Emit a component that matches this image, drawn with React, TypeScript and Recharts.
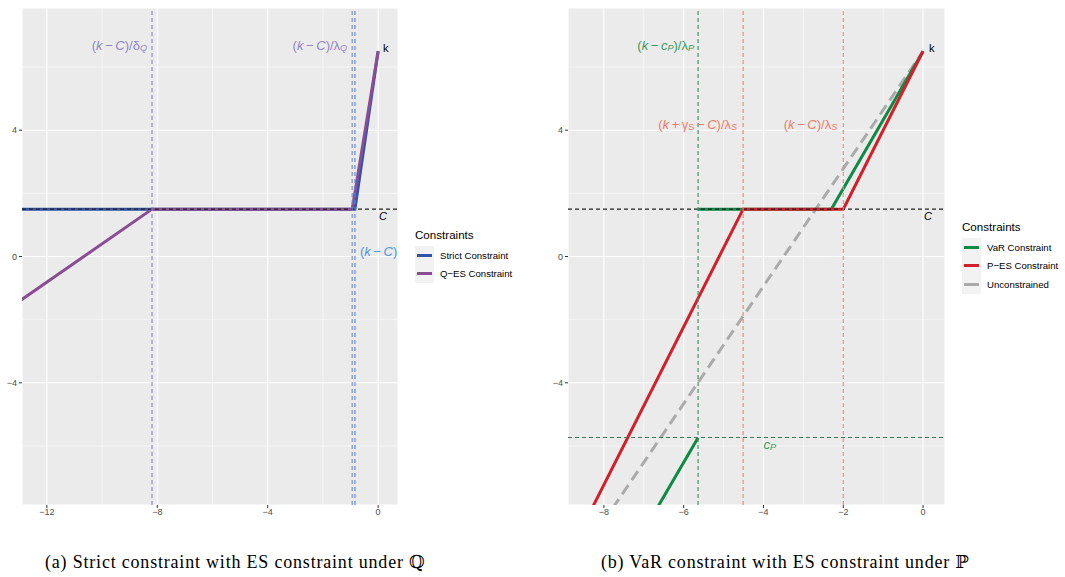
import React from "react";
import {
  LineChart,
  Line,
  XAxis,
  YAxis,
  CartesianGrid,
  ReferenceLine,
  ReferenceDot,
} from "recharts";

// axis ticks and grid
const yTicks = [-4, 0, 4];
const yMinor = [-6, -2, 2, 6];
const leftXTicks = [-12, -8, -4, 0];
const leftXMinor = [-10, -6, -2];
const rightXTicks = [-8, -6, -4, -2, 0];
const rightXMinor = [-7, -5, -3, -1];

// levels
const kLevel = 6.5;
const cLevel = 1.5;
const cPLevel = -5.73;

// left panel (Q)
const deltaQ = -8.19;
const lambdaQ = -0.94;
const kMinusC = -0.84;
const strictX = [-13, -0.84, 0];
const strictY = [1.5, 1.5, 6.5];
const qesX = [-13, -8.19, -0.94, 0];
const qesY = [-1.42, 1.5, 1.5, 6.5];

// right panel (P)
const lambdaP = -5.64;
const gammaS = -4.51;
const lambdaS = -2;
const varX = [-7, -5.64, -5.64, -5.64, -2.3, 0];
const varY: (number | null)[] = [-8.69, -5.74, null, 1.5, 1.5, 6.5];
const pesX = [-9, -4.51, -2, 0];
const pesY = [-9.73, 1.5, 1.5, 6.5];
const uncX = [-8.5, 0];
const uncY = [-9.31, 6.5];

const COLORS = {
  strict: "#3353a6",
  qes: "#8a4c93",
  var: "#0d8a43",
  pes: "#d2202a",
  unc: "#aaaaaa",
};

const SANS = "Liberation Sans, Arial, sans-serif";

const zip = (xs: number[], ys: (number | null)[]) =>
  xs.map((x, i) => ({ x, y: ys[i] }));

const fmt = (v: number) => String(v).replace("-", "\u2212");

type Part = { t: string; i?: boolean; sub?: boolean };

// math-ish label drawn at a data point
function mathLabel(
  parts: Part[],
  o: { color: string; anchor?: "start" | "end"; dx?: number; dy?: number; size?: number }
) {
  return (props: any) => {
    const vb = props.viewBox || {};
    const x = (vb.x ?? 0) + (vb.width ?? 0) / 2 + (o.dx ?? 0);
    const y = (vb.y ?? 0) + (vb.height ?? 0) / 2 + (o.dy ?? 0);
    const size = o.size ?? 13;
    let shift = 0;
    return (
      <text
        x={x}
        y={y}
        textAnchor={o.anchor ?? "start"}
        dominantBaseline="central"
        fill={o.color}
        fontSize={size}
        fontFamily={SANS}
      >
        {parts.map((p, idx) => {
          const target = p.sub ? 3 : 0;
          const dy = target - shift;
          shift = target;
          return (
            <tspan
              key={idx}
              dy={dy}
              fontStyle={p.i ? "italic" : "normal"}
              fontSize={p.sub ? size * 0.7 : size}
            >
              {p.t}
            </tspan>
          );
        })}
      </text>
    );
  };
}

const axisTick = { fontSize: 9, fill: "#4d4d4d", fontFamily: SANS };

function LegendBox({
  left,
  top,
  items,
}: {
  left: number;
  top: number;
  items: { name: string; color: string }[];
}) {
  return (
    <div style={{ position: "absolute", left, top, fontFamily: SANS }}>
      <div style={{ fontSize: 11.6, color: "#000", height: 19, lineHeight: "16px" }}>Constraints</div>
      {items.map((it) => (
        <div key={it.name} style={{ display: "flex", alignItems: "center", height: 18.5 }}>
          <div
            style={{
              width: 19,
              height: 18.5,
              background: "#f2f2f2",
              display: "flex",
              alignItems: "center",
              justifyContent: "center",
            }}
          >
            <div style={{ width: 15, height: 3, background: it.color }} />
          </div>
          <span style={{ fontSize: 9.6, color: "#000", marginLeft: 6 }}>{it.name}</span>
        </div>
      ))}
    </div>
  );
}

const captionStyle: React.CSSProperties = {
  position: "absolute",
  top: 551,
  fontFamily: "'Liberation Serif', 'DejaVu Serif', serif",
  fontSize: 18,
  letterSpacing: 0.8,
  whiteSpace: "nowrap",
  color: "#000",
};

export default function App() {
  const lineProps = { dataKey: "y", dot: false, isAnimationActive: false, strokeWidth: 3 } as const;
  const dash = { strokeWidth: 1.1, strokeDasharray: "4 3" } as const;
  return (
    <div
      style={{
        position: "absolute",
        left: 0,
        top: 0,
        width: 1065,
        height: 577,
        background: "#fff",
        overflow: "hidden",
      }}
    >
      {/* left panel */}
      <div style={{ position: "absolute", left: 0, top: 0 }}>
        <LineChart width={400} height={540} margin={{ top: 8, right: 2, left: 2, bottom: 15 }}>
          <CartesianGrid fill="#ebebeb" stroke="#ffffff" strokeWidth={1.1} />
          {leftXMinor.map((v) => (
            <ReferenceLine key={"lx" + v} x={v} stroke="#fff" strokeWidth={0.55} />
          ))}
          {yMinor.map((v) => (
            <ReferenceLine key={"ly" + v} y={v} stroke="#fff" strokeWidth={0.55} />
          ))}
          <XAxis
            type="number"
            dataKey="x"
            domain={[-12.9, 0.72]}
            ticks={leftXTicks}
            allowDataOverflow
            axisLine={false}
            tickLine={{ stroke: "#333" }}
            tickSize={3}
            tickMargin={1}
            tick={axisTick}
            tickFormatter={fmt}
            height={20}
          />
          <YAxis
            type="number"
            dataKey="y"
            domain={[-7.87, 7.87]}
            ticks={yTicks}
            allowDataOverflow
            axisLine={false}
            tickLine={{ stroke: "#333" }}
            tickSize={3}
            tickMargin={2}
            tick={axisTick}
            tickFormatter={fmt}
            width={20}
          />
          <Line data={zip(strictX, strictY)} stroke={COLORS.strict} {...lineProps} />
          <Line data={zip(qesX, qesY)} stroke={COLORS.qes} {...lineProps} />
          <ReferenceLine y={cLevel} stroke="#222" {...dash} />
          <ReferenceLine x={deltaQ} stroke="#8a7ccf" {...dash} />
          <ReferenceLine x={lambdaQ} stroke="#8a7ccf" {...dash} />
          <ReferenceLine x={kMinusC} stroke="#3b8fe3" {...dash} />
          <ReferenceDot
            x={deltaQ}
            y={6.7}
            r={0}
            stroke="none"
            fill="none"
            label={mathLabel(
              [{ t: "(" }, { t: "k", i: true }, { t: "\u2009\u2212\u2009" }, { t: "C", i: true }, { t: ")/\u03b4" }, { t: "Q", i: true, sub: true }],
              { color: "#9185c9", anchor: "end", dx: -5 }
            )}
          />
          <ReferenceDot
            x={lambdaQ}
            y={6.7}
            r={0}
            stroke="none"
            fill="none"
            label={mathLabel(
              [{ t: "(" }, { t: "k", i: true }, { t: "\u2009\u2212\u2009" }, { t: "C", i: true }, { t: ")/\u03bb" }, { t: "Q", i: true, sub: true }],
              { color: "#9185c9", anchor: "end", dx: -5 }
            )}
          />
          <ReferenceDot
            x={kMinusC}
            y={0.19}
            r={0}
            stroke="none"
            fill="none"
            label={mathLabel(
              [{ t: "(" }, { t: "k", i: true }, { t: "\u2009\u2212\u2009" }, { t: "C", i: true }, { t: ")" }],
              { color: "#4f95e0", anchor: "start", dx: 5 }
            )}
          />
          <ReferenceDot
            x={0}
            y={kLevel}
            r={0}
            stroke="none"
            fill="none"
            label={mathLabel([{ t: "k" }], { color: "#000", anchor: "start", dx: 5, dy: -3, size: 11 })}
          />
          <ReferenceDot
            x={0}
            y={cLevel}
            r={0}
            stroke="none"
            fill="none"
            label={mathLabel([{ t: "C", i: true }], { color: "#000", anchor: "start", dx: 1, dy: 7, size: 11 })}
          />
        </LineChart>
      </div>

      {/* right panel */}
      <div style={{ position: "absolute", left: 540, top: 0 }}>
        <LineChart width={410} height={540} margin={{ top: 8, right: 5, left: 8, bottom: 15 }}>
          <CartesianGrid fill="#ebebeb" stroke="#ffffff" strokeWidth={1.1} />
          {rightXMinor.map((v) => (
            <ReferenceLine key={"rx" + v} x={v} stroke="#fff" strokeWidth={0.55} />
          ))}
          {yMinor.map((v) => (
            <ReferenceLine key={"ry" + v} y={v} stroke="#fff" strokeWidth={0.55} />
          ))}
          <XAxis
            type="number"
            dataKey="x"
            domain={[-8.9, 0.55]}
            ticks={rightXTicks}
            allowDataOverflow
            axisLine={false}
            tickLine={{ stroke: "#333" }}
            tickSize={3}
            tickMargin={1}
            tick={axisTick}
            tickFormatter={fmt}
            height={20}
          />
          <YAxis
            type="number"
            dataKey="y"
            domain={[-7.87, 7.87]}
            ticks={yTicks}
            allowDataOverflow
            axisLine={false}
            tickLine={{ stroke: "#333" }}
            tickSize={3}
            tickMargin={2}
            tick={axisTick}
            tickFormatter={fmt}
            width={20}
          />
          <Line data={zip(uncX, uncY)} stroke={COLORS.unc} strokeDasharray="11 6" {...lineProps} />
          <Line data={zip(varX, varY)} stroke={COLORS.var} connectNulls={false} {...lineProps} />
          <Line data={zip(pesX, pesY)} stroke={COLORS.pes} {...lineProps} />
          <ReferenceLine y={cLevel} stroke="#222" {...dash} />
          <ReferenceLine y={cPLevel} stroke="#3a7a55" {...dash} />
          <ReferenceLine x={lambdaP} stroke="#3a8a5c" {...dash} />
          <ReferenceLine x={gammaS} stroke="#f4806f" {...dash} />
          <ReferenceLine x={lambdaS} stroke="#f4806f" {...dash} />
          <ReferenceDot
            x={lambdaP}
            y={6.7}
            r={0}
            stroke="none"
            fill="none"
            label={mathLabel(
              [{ t: "(" }, { t: "k", i: true }, { t: "\u2009\u2212\u2009" }, { t: "c", i: true }, { t: "P", i: true, sub: true }, { t: ")/\u03bb" }, { t: "P", i: true, sub: true }],
              { color: "#3a9a60", anchor: "end", dx: -4 }
            )}
          />
          <ReferenceDot
            x={gammaS}
            y={4.2}
            r={0}
            stroke="none"
            fill="none"
            label={mathLabel(
              [{ t: "(" }, { t: "k", i: true }, { t: "\u2009+\u2009\u03b3" }, { t: "S", sub: true }, { t: "\u2009\u2212\u2009" }, { t: "C", i: true }, { t: ")/\u03bb" }, { t: "S", i: true, sub: true }],
              { color: "#f07a68", anchor: "end", dx: -6 }
            )}
          />
          <ReferenceDot
            x={lambdaS}
            y={4.2}
            r={0}
            stroke="none"
            fill="none"
            label={mathLabel(
              [{ t: "(" }, { t: "k", i: true }, { t: "\u2009\u2212\u2009" }, { t: "C", i: true }, { t: ")/\u03bb" }, { t: "S", i: true, sub: true }],
              { color: "#f07a68", anchor: "end", dx: -6 }
            )}
          />
          <ReferenceDot
            x={-4}
            y={cPLevel}
            r={0}
            stroke="none"
            fill="none"
            label={mathLabel([{ t: "c", i: true }, { t: "P", i: true, sub: true }], {
              color: "#3a9a60",
              anchor: "start",
              dx: 0,
              dy: 7,
            })}
          />
          <ReferenceDot
            x={0}
            y={kLevel}
            r={0}
            stroke="none"
            fill="none"
            label={mathLabel([{ t: "k" }], { color: "#000", anchor: "start", dx: 6, dy: -3, size: 11 })}
          />
          <ReferenceDot
            x={0}
            y={cLevel}
            r={0}
            stroke="none"
            fill="none"
            label={mathLabel([{ t: "C", i: true }], { color: "#000", anchor: "start", dx: 1, dy: 7, size: 11 })}
          />
        </LineChart>
      </div>

      <LegendBox
        left={415}
        top={227}
        items={[
          { name: "Strict Constraint", color: COLORS.strict },
          { name: "Q\u2212ES Constraint", color: COLORS.qes },
        ]}
      />
      <LegendBox
        left={962}
        top={219}
        items={[
          { name: "VaR Constraint", color: COLORS.var },
          { name: "P\u2212ES Constraint", color: COLORS.pes },
          { name: "Unconstrained", color: COLORS.unc },
        ]}
      />

      <div style={{ ...captionStyle, left: 45 }}>(a) Strict constraint with ES constraint under ℚ</div>
      <div style={{ ...captionStyle, left: 601 }}>(b) VaR constraint with ES constraint under ℙ</div>
    </div>
  );
}
